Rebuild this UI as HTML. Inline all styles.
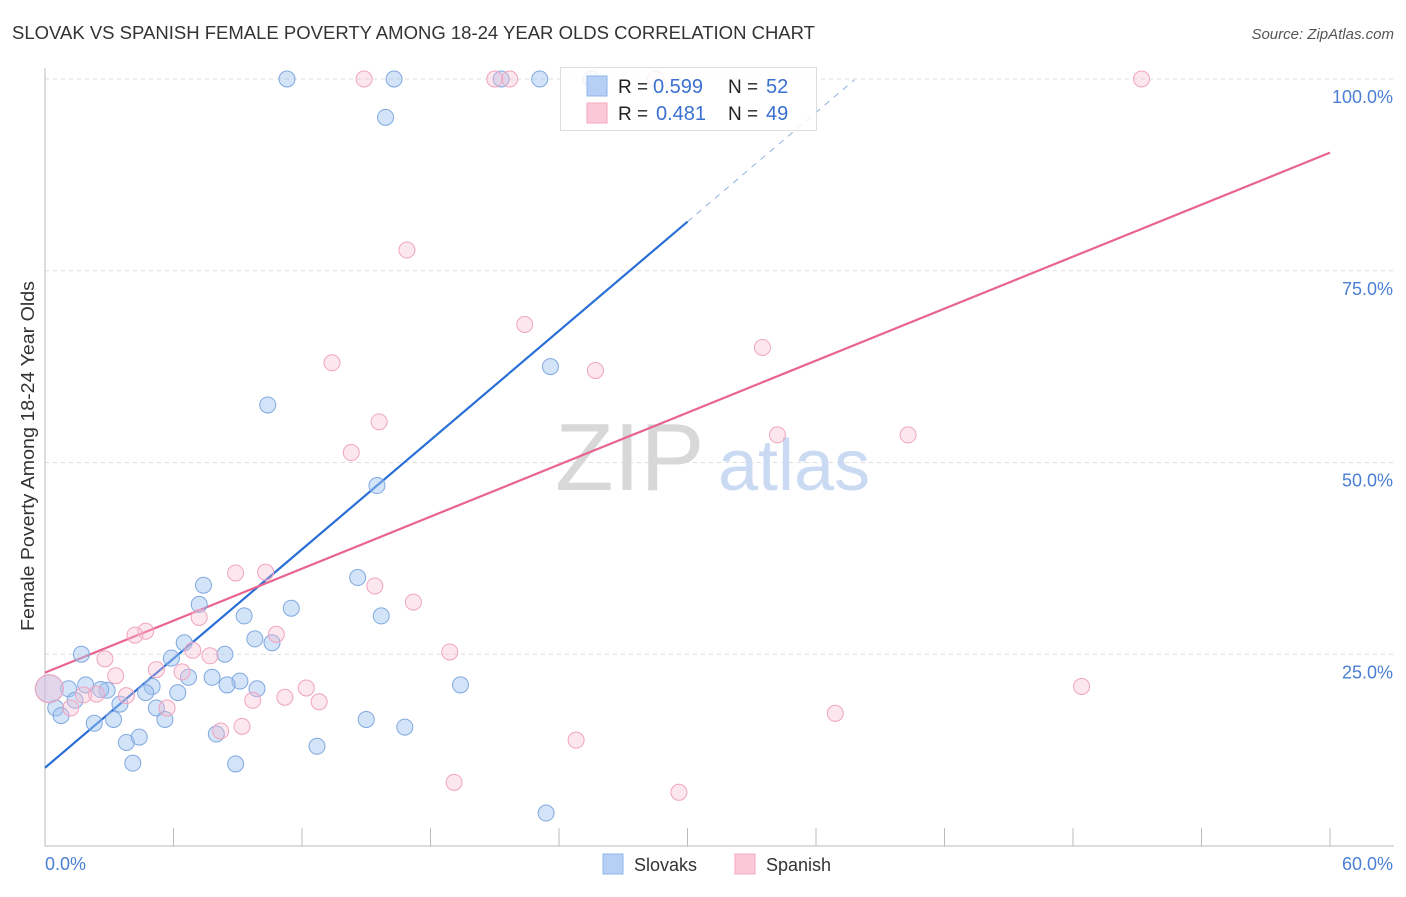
<!DOCTYPE html>
<html><head><meta charset="utf-8"><style>
body{margin:0;background:#fff;font-family:"Liberation Sans",sans-serif;}
svg text{font-family:"Liberation Sans",sans-serif;}
</style></head><body>
<svg width="1406" height="892" viewBox="0 0 1406 892">
<text x="12" y="39" font-size="18" fill="#333" textLength="803" lengthAdjust="spacingAndGlyphs">SLOVAK VS SPANISH FEMALE POVERTY AMONG 18-24 YEAR OLDS CORRELATION CHART</text>
<text x="1394" y="39" font-size="15" fill="#555" font-style="italic" text-anchor="end">Source: ZipAtlas.com</text>
<text transform="translate(34,456) rotate(-90)" font-size="18" fill="#333" text-anchor="middle" textLength="350" lengthAdjust="spacingAndGlyphs">Female Poverty Among 18-24 Year Olds</text>
<g id="grid"></g>
<g>
<text x="555" y="490" font-size="96" fill="#d8d8d8" font-family="Liberation Serif">ZIP</text>
<text x="718" y="490" font-size="72" fill="#c9daf2">atlas</text>
</g>
<g id="lines"></g>
<g id="points"></g>
<g>
<rect x="560.5" y="67.5" width="256" height="63" fill="rgba(255,255,255,0.85)" stroke="#ddd"/>
<rect x="587" y="76" width="20" height="20" fill="#b6d0f5" stroke="#8fb4ea"/>
<text x="618" y="93" font-size="19" fill="#222">R =</text>
<text x="653" y="93" font-size="20" fill="#3a70d0">0.599</text>
<text x="728" y="93" font-size="19" fill="#222">N =</text>
<text x="766" y="93" font-size="20" fill="#3a70d0">52</text>
<rect x="587" y="103" width="20" height="20" fill="#fbc8d8" stroke="#f0a8c0"/>
<text x="618" y="120" font-size="19" fill="#222">R =</text>
<text x="656" y="120" font-size="20" fill="#3a70d0">0.481</text>
<text x="728" y="120" font-size="19" fill="#222">N =</text>
<text x="766" y="120" font-size="20" fill="#3a70d0">49</text>
</g>
<g>
<rect x="603" y="854" width="20" height="20" fill="#b6d0f5" stroke="#8fb4ea"/>
<text x="634" y="871" font-size="18" fill="#333">Slovaks</text>
<rect x="735" y="854" width="20" height="20" fill="#fbc8d8" stroke="#f0a8c0"/>
<text x="766" y="871" font-size="18" fill="#333">Spanish</text>
</g>
</svg>
<script>
const xTickLabels=["0.0%","60.0%"];
const yTicks=[25,50,75,100];
const yTickLabels=["25.0%","50.0%","75.0%","100.0%"];
const slovakX=[11.3,16.3,21.3,23.1,25.5,15.9,10.4,23.6,15.5,14.6,15.7,11.5,7.4,7.2,9.3,9.8,10.6,6.5,5.9,8.4,7.8,9.1,8.5,9.9,6.7,6.2,5.0,4.7,5.2,5.6,3.5,2.9,2.6,1.7,1.9,1.1,1.4,0.5,0.75,2.3,3.2,3.8,4.4,4.1,8.0,8.9,12.7,15.0,16.8,19.4,23.4,0.2];
const slovakY=[100,100,100,100,100,95,57.5,62.5,47,35,30,31,34,31.5,30,27,26.5,26.5,24.5,25,22,21.5,21,20.5,22,20,20.8,20,18,16.5,18.5,20.3,20.4,25,21,20.5,19,18,17,16,16.5,13.5,14.2,10.8,14.6,10.7,13,16.5,15.5,21,4.3,20.5];
const spanishX=[14.9,21.0,21.7,28.5,51.2,16.9,22.4,13.4,25.7,33.5,15.6,14.3,34.2,40.3,8.9,10.3,15.4,17.2,4.7,4.2,7.2,10.8,6.9,7.7,2.8,5.2,6.4,3.3,3.8,2.4,1.8,1.2,5.7,9.7,11.2,12.2,12.8,18.9,8.2,9.2,24.8,19.1,29.6,36.9,48.4,0.2];
const spanishY=[100,100,100,100,100,77.7,68,63,62,65,55.3,51.3,53.6,53.6,35.6,35.7,33.9,31.8,28,27.5,29.8,27.6,25.5,24.8,24.4,23,22.7,22.2,19.6,19.8,19.7,18,18,19,19.4,20.6,18.8,25.3,15,15.6,13.8,8.3,7,17.3,20.8,20.5];
const blueLine=[0,10.2,30.0,81.4], blueDash=[30.0,81.4,37.8,99.9];
const pinkLine=[0,22.6,60,90.4];
const NS="http://www.w3.org/2000/svg";
const X=v=>45+v*(1330-45)/60, Y=v=>846-v*(846-79)/100;
function mk(t,a,p){const e=document.createElementNS(NS,t);for(const k in a)e.setAttribute(k,a[k]);p.appendChild(e);return e;}
const grid=document.getElementById('grid');
yTicks.forEach((t,i)=>{
 const l=mk('line',{x1:45,x2:1394,y1:Y(t),y2:Y(t),stroke:'#ddd','stroke-dasharray':'4,4'},grid);
 
 
 const tx=mk('text',{x:1393,y:Y(t)+24,'font-size':18,fill:'#4a7fd4','text-anchor':'end'},grid);tx.textContent=yTickLabels[i];
 
 
});
const ax=mk('line',{x1:45,x2:45,y1:68,y2:846,stroke:'#bbb'},grid);


const bx=mk('line',{x1:45,x2:1394,y1:846,y2:846,stroke:'#bbb'},grid);


for(let i=1;i<=10;i++){const t=mk('line',{x1:X(i*6),x2:X(i*6),y1:828,y2:846,stroke:'#bbb'},grid);
 
 }
[[45,'start',0],[1393,'end',1]].forEach(([x,a,i])=>{const t=mk('text',{x:x,y:870,'font-size':18,fill:'#4a7fd4','text-anchor':a},grid);t.textContent=xTickLabels[i];
 
 });
const pts=document.getElementById('points');
function dots(xs,ys,fill,stroke,name){xs.forEach((v,i)=>{const big=i===xs.length-1;
 const c=mk('circle',{cx:X(v),cy:Y(ys[i]),r:big?14:8,fill:fill,stroke:stroke,'stroke-width':1},pts);
 
 });}
dots(slovakX,slovakY,'rgba(160,195,240,0.45)','#7fa8e0','slovak-point');
dots(spanishX,spanishY,'rgba(248,185,210,0.35)','#f0a4be','spanish-point');
const lg=document.getElementById('lines');
const b=mk('line',{x1:X(blueLine[0]),y1:Y(blueLine[1]),x2:X(blueLine[2]),y2:Y(blueLine[3]),stroke:'#2a6fd6','stroke-width':2.2},lg);


const bd=mk('line',{x1:X(blueDash[0]),y1:Y(blueDash[1]),x2:X(blueDash[2]),y2:Y(blueDash[3]),stroke:'#8fb0e0','stroke-width':1,'stroke-dasharray':'6,6'},lg);


const p=mk('line',{x1:X(pinkLine[0]),y1:Y(pinkLine[1]),x2:X(pinkLine[2]),y2:Y(pinkLine[3]),stroke:'#e8648f','stroke-width':2.2},lg);


</script>
</body></html>
